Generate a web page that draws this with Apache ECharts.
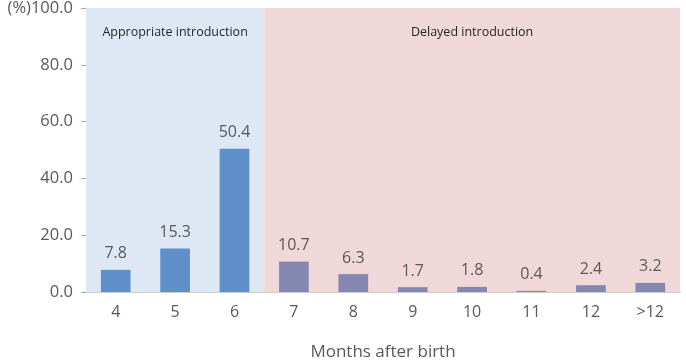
<!DOCTYPE html>
<html><head><meta charset="utf-8">
<script src="https://cdn.jsdelivr.net/npm/echarts@6/dist/echarts.min.js"></script>
<style>html,body{margin:0;padding:0;background:#fff}#c{width:686px;height:364px}</style>
</head><body><div id="c"></div>
<script>
var categories = ['4','5','6','7','8','9','10','11','12','>12'];
var values = [7.8, 15.3, 50.4, 10.7, 6.3, 1.7, 1.8, 0.4, 2.4, 3.2];
var appropriateCount = 3;
var yTicks = [0, 20, 40, 60, 80, 100];
var bandLabels = ['Appropriate introduction', 'Delayed introduction'];

var font = 'Open Sans';
var chart = echarts.init(document.getElementById('c'), null, {renderer:'canvas'});
chart.setOption({
  animation: false,
  grid: {left: 86, right: 6, top: 8, bottom: 72, containLabel: false, outerBoundsMode: 'none'},
  xAxis: [{
    type: 'category', data: categories,
    axisLine: {lineStyle: {color: '#BFBFBF', width: 1.5}},
    axisTick: {show: false},
    axisLabel: {color: '#595959', fontSize: 16, fontFamily: font, margin: 12},
    name: 'Months after birth', nameLocation: 'middle', nameGap: 52,
    nameTextStyle: {color: '#595959', fontSize: 17, fontFamily: font}
  }, {
    type: 'value', min: 0, max: categories.length, show: false
  }],
  yAxis: {
    type: 'value', min: yTicks[0], max: yTicks[yTicks.length-1], interval: 20,
    axisLine: {show: true, lineStyle: {color: '#A6A6A6'}},
    axisTick: {show: true, length: 5, lineStyle: {color: '#A6A6A6'}},
    splitLine: {show: false},
    axisLabel: {color: '#595959', fontSize: 16.5, fontFamily: font, margin: 13,
      formatter: function(v){ return (v === 100 ? '(%)' : '') + v.toFixed(1); }}
  },
  series: [{
    type: 'line', xAxisIndex: 1, data: [], silent: true,
    markArea: {
      silent: true,
      data: [
        [{xAxis: 0, yAxis: 0, name: bandLabels[0], itemStyle: {color: '#DEE8F5'}}, {xAxis: appropriateCount, yAxis: 100}],
        [{xAxis: appropriateCount, yAxis: 0, name: bandLabels[1], itemStyle: {color: '#F0D7D8'}}, {xAxis: categories.length, yAxis: 100}]
      ],
      label: {show: true, position: 'insideTop', distance: 18, color: '#262626', fontSize: 12.5, fontFamily: font}
    }
  }, {
    type: 'bar', barWidth: '50%', z: 3,
    data: values.map(function(v, i){
      return {value: v, itemStyle: {color: i < appropriateCount ? '#5E8FC8' : '#8488B0'}};
    }),
    label: {show: true, position: 'top', distance: 8, color: '#595959', fontSize: 16, fontFamily: font,
      formatter: function(p){ return p.value.toFixed(1); }}
  }]
});
</script></body></html>
